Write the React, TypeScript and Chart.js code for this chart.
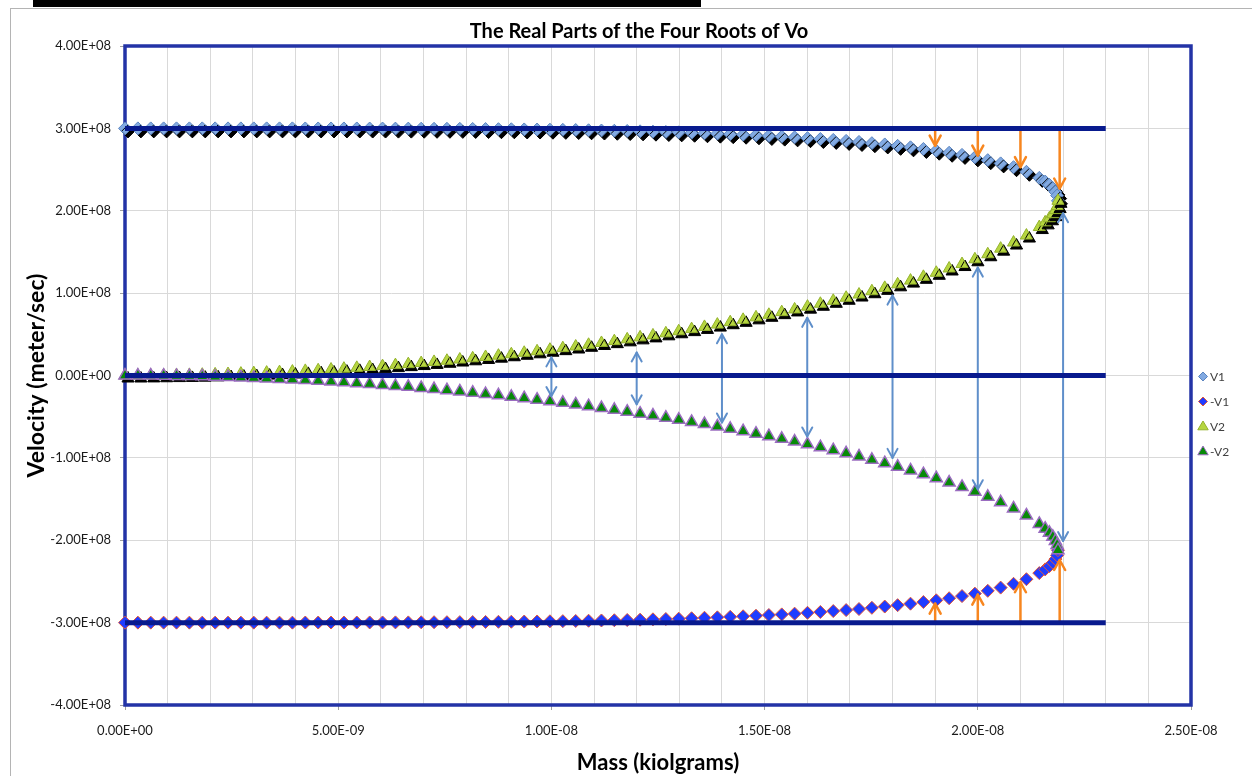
import React, { useEffect, useRef } from 'react';
import { Chart, registerables } from 'chart.js';

Chart.register(...registerables);

// Mass values in units of 1E-09 kg
const massX = [
  0, 0.302, 0.604, 0.906, 1.208, 1.51, 1.812, 2.114, 2.416, 2.718, 3.02, 3.322, 3.624,
  3.926, 4.228, 4.53, 4.832, 5.134, 5.436, 5.738, 6.04, 6.342, 6.644, 6.946, 7.248, 7.55,
  7.852, 8.154, 8.456, 8.758, 9.06, 9.362, 9.664, 9.966, 10.268, 10.57, 10.872, 11.174, 11.476,
  11.778, 12.08, 12.382, 12.684, 12.986, 13.288, 13.59, 13.892, 14.194, 14.496, 14.798, 15.1, 15.402,
  15.704, 16.006, 16.308, 16.61, 16.912, 17.214, 17.516, 17.818, 18.12, 18.422, 18.724, 19.026, 19.328,
  19.63, 19.932, 20.234, 20.536, 20.838, 21.14, 21.442,
  21.58, 21.68, 21.76, 21.82, 21.86, 21.88,
];

// Velocities in units of 1E+08 m/s
const v1 = [
  3.0, 3.0, 3.0, 3.0, 3.0, 3.0, 3.0, 3.0, 3.0, 3.0, 3.0, 3.0, 3.0,
  3.0, 2.999, 2.999, 2.999, 2.999, 2.999, 2.998, 2.998, 2.997, 2.997, 2.996, 2.995, 2.995,
  2.994, 2.993, 2.992, 2.99, 2.989, 2.987, 2.986, 2.984, 2.982, 2.98, 2.977, 2.974, 2.971,
  2.968, 2.964, 2.96, 2.956, 2.952, 2.947, 2.941, 2.936, 2.93, 2.923, 2.916, 2.908, 2.9,
  2.891, 2.881, 2.871, 2.86, 2.848, 2.835, 2.82, 2.805, 2.788, 2.77, 2.75, 2.729, 2.704,
  2.678, 2.648, 2.614, 2.575, 2.529, 2.473, 2.399,
  2.354, 2.314, 2.272, 2.229, 2.184, 2.121,
];

const negV1 = [
  -3.0, -3.0, -3.0, -3.0, -3.0, -3.0, -3.0, -3.0, -3.0, -3.0, -3.0, -3.0, -3.0,
  -3.0, -2.999, -2.999, -2.999, -2.999, -2.999, -2.998, -2.998, -2.997, -2.997, -2.996, -2.995, -2.995,
  -2.994, -2.993, -2.992, -2.99, -2.989, -2.987, -2.986, -2.984, -2.982, -2.98, -2.977, -2.974, -2.971,
  -2.968, -2.964, -2.96, -2.956, -2.952, -2.947, -2.941, -2.936, -2.93, -2.923, -2.916, -2.908, -2.9,
  -2.891, -2.881, -2.871, -2.86, -2.848, -2.835, -2.82, -2.805, -2.788, -2.77, -2.75, -2.729, -2.704,
  -2.678, -2.648, -2.614, -2.575, -2.529, -2.473, -2.399,
  -2.354, -2.314, -2.272, -2.229, -2.184, -2.121,
];

const v2 = [
  0.0, 0.0, 0.001, 0.003, 0.005, 0.007, 0.01, 0.014, 0.018, 0.023, 0.029, 0.035, 0.041,
  0.048, 0.056, 0.064, 0.073, 0.083, 0.093, 0.103, 0.114, 0.126, 0.138, 0.151, 0.165, 0.179,
  0.194, 0.209, 0.225, 0.241, 0.258, 0.276, 0.294, 0.313, 0.332, 0.352, 0.373, 0.395, 0.417,
  0.439, 0.463, 0.487, 0.512, 0.537, 0.563, 0.59, 0.618, 0.647, 0.676, 0.706, 0.737, 0.769,
  0.802, 0.836, 0.871, 0.907, 0.944, 0.983, 1.023, 1.064, 1.107, 1.152, 1.198, 1.247, 1.299,
  1.353, 1.411, 1.472, 1.54, 1.614, 1.699, 1.802,
  1.859, 1.909, 1.959, 2.008, 2.057, 2.121,
];

const negV2 = [
  -0.0, -0.0, -0.001, -0.003, -0.005, -0.007, -0.01, -0.014, -0.018, -0.023, -0.029, -0.035, -0.041,
  -0.048, -0.056, -0.064, -0.073, -0.083, -0.093, -0.103, -0.114, -0.126, -0.138, -0.151, -0.165, -0.179,
  -0.194, -0.209, -0.225, -0.241, -0.258, -0.276, -0.294, -0.313, -0.332, -0.352, -0.373, -0.395, -0.417,
  -0.439, -0.463, -0.487, -0.512, -0.537, -0.563, -0.59, -0.618, -0.647, -0.676, -0.706, -0.737, -0.769,
  -0.802, -0.836, -0.871, -0.907, -0.944, -0.983, -1.023, -1.064, -1.107, -1.152, -1.198, -1.247, -1.299,
  -1.353, -1.411, -1.472, -1.54, -1.614, -1.699, -1.802,
  -1.859, -1.909, -1.959, -2.008, -2.057, -2.121,
];

// Reference horizontal lines (speed of light, zero, minus speed of light)
const refLevels = [3, 0, -3];
const refSpan = [0, 23];

// Orange arrows (from +/- c line toward V1 / -V1)
const orangeX = [19, 20, 21, 21.92];
const orangeTopEnd = [2.79, 2.67, 2.53, 2.27];
const orangeBottomEnd = [-2.77, -2.66, -2.51, -2.24];

// Blue double-headed arrows between V2 and -V2
const blueX = [10, 12, 14, 16, 18, 20, 22];
const blueTop = [0.22, 0.28, 0.5, 0.7, 0.97, 1.31, 1.97];
const blueBottom = [-0.25, -0.35, -0.57, -0.74, -1.0, -1.38, -2.01];

const xMin = 0;
const xMax = 25;
const yMin = -4;
const yMax = 4;
const xUnit = 1e-9;
const yUnit = 1e8;

const titleText = 'The Real Parts of the Four Roots of Vo';
const xTitle = 'Mass (kiolgrams)';
const yTitle = 'Velocity (meter/sec)';

const FONT = 'Lato';

function fmtE(v: number): string {
  if (Math.abs(v) < 1e-30) return '0.00E+00';
  let exp = Math.floor(Math.log10(Math.abs(v)) + 1e-9);
  let mant = v / Math.pow(10, exp);
  if (Math.abs(mant) >= 9.995) {
    exp += 1;
    mant = v / Math.pow(10, exp);
  }
  const sign = exp < 0 ? '-' : '+';
  return mant.toFixed(2) + 'E' + sign + String(Math.abs(exp)).padStart(2, '0');
}

const pts = (ys: number[]) => massX.map((x, i) => ({ x, y: ys[i] }));

function drawHead(ctx: CanvasRenderingContext2D, x: number, y: number, dir: number, hw: number, hl: number) {
  ctx.beginPath();
  ctx.moveTo(x - hw, y - dir * hl);
  ctx.lineTo(x, y);
  ctx.lineTo(x + hw, y - dir * hl);
  ctx.stroke();
}

function drawArrow(
  ctx: CanvasRenderingContext2D,
  x: number,
  y0: number,
  y1: number,
  color: string,
  both: boolean,
  hw: number,
  hl: number,
  lw: number
) {
  ctx.save();
  ctx.strokeStyle = color;
  ctx.lineWidth = lw;
  ctx.lineCap = 'round';
  ctx.lineJoin = 'round';
  ctx.beginPath();
  ctx.moveTo(x, y0);
  ctx.lineTo(x, y1);
  ctx.stroke();
  drawHead(ctx, x, y1, Math.sign(y1 - y0), hw, hl);
  if (both) drawHead(ctx, x, y0, Math.sign(y0 - y1), hw, hl);
  ctx.restore();
}

function drawMarker(ctx: CanvasRenderingContext2D, style: string, x: number, y: number, r: number, fill: string, stroke: string) {
  ctx.beginPath();
  if (style === 'rectRot') {
    ctx.moveTo(x, y - r);
    ctx.lineTo(x + r, y);
    ctx.lineTo(x, y + r);
    ctx.lineTo(x - r, y);
  } else {
    ctx.moveTo(x, y - r);
    ctx.lineTo(x + r * 0.95, y + r * 0.6);
    ctx.lineTo(x - r * 0.95, y + r * 0.6);
  }
  ctx.closePath();
  ctx.fillStyle = fill;
  ctx.fill();
  ctx.lineWidth = 1;
  ctx.strokeStyle = stroke;
  ctx.stroke();
}

const decorPlugin = {
  id: 'decor',
  beforeDatasetsDraw(chart: any) {
    const { ctx, chartArea: a } = chart;
    ctx.save();
    ctx.strokeStyle = '#2333a6';
    ctx.lineWidth = 3.5;
    ctx.strokeRect(a.left, a.top, a.right - a.left, a.bottom - a.top);
    ctx.restore();
  },
  beforeDatasetDraw(chart: any, args: any) {
    const ds = chart.data.datasets[args.index];
    if (ds.shadow) {
      const ctx = chart.ctx;
      ctx.save();
      ctx.shadowColor = '#000000';
      ctx.shadowOffsetX = 3;
      ctx.shadowOffsetY = 3;
      ctx.shadowBlur = 0;
    }
  },
  afterDatasetDraw(chart: any, args: any) {
    const ds = chart.data.datasets[args.index];
    const ctx = chart.ctx;
    if (ds.shadow) ctx.restore();
    if (ds.label === '-V2') {
      const xs = chart.scales.x;
      const ys = chart.scales.y;
      orangeX.forEach((mx, i) => {
        const px = xs.getPixelForValue(mx);
        drawArrow(ctx, px, ys.getPixelForValue(refLevels[0]), ys.getPixelForValue(orangeTopEnd[i]), '#f7861f', false, 5.5, 10, 2.5);
        drawArrow(ctx, px, ys.getPixelForValue(refLevels[2]), ys.getPixelForValue(orangeBottomEnd[i]), '#f7861f', false, 5.5, 10, 2.5);
      });
      blueX.forEach((mx, i) => {
        const px = xs.getPixelForValue(mx);
        drawArrow(ctx, px, ys.getPixelForValue(blueTop[i]), ys.getPixelForValue(blueBottom[i]), '#5f8fca', true, 5, 9, 2);
      });
    }
  },
  afterDraw(chart: any) {
    const { ctx, chartArea: a } = chart;
    ctx.save();
    // Title
    ctx.fillStyle = '#000';
    ctx.font = `bold 20px ${FONT}`;
    ctx.textAlign = 'center';
    ctx.textBaseline = 'middle';
    ctx.fillText(titleText, 639, a.top - 14);
    // Legend
    const cy = (a.top + a.bottom) / 2 + 1;
    const lx = a.right + 12;
    ctx.font = `12px ${FONT}`;
    ctx.textAlign = 'left';
    chart.data.datasets.slice(0, 4).forEach((ds: any, i: number) => {
      const y = cy + i * 25;
      drawMarker(ctx, ds.pointStyle, lx, y, ds.pointStyle === 'rectRot' ? 4.5 : 5.5, ds.backgroundColor, ds.borderColor);
      ctx.fillStyle = '#404040';
      ctx.fillText(ds.label, lx + 7, y + 1);
    });
    ctx.restore();
  },
};

export default function App() {
  const canvasRef = useRef<HTMLCanvasElement | null>(null);

  useEffect(() => {
    const canvas = canvasRef.current;
    if (!canvas) return;

    const datasets: any[] = [
      {
        label: 'V1',
        data: pts(v1),
        pointStyle: 'rectRot',
        pointRadius: 6.5,
        backgroundColor: '#82aae2',
        borderColor: '#5a84c0',
        borderWidth: 1,
        showLine: false,
        order: 4,
        shadow: true,
        clip: false,
      },
      {
        label: '-V1',
        data: pts(negV1),
        pointStyle: 'rectRot',
        pointRadius: 6.5,
        backgroundColor: '#1f3cff',
        borderColor: '#e2563a',
        borderWidth: 1,
        showLine: false,
        order: 3,
        clip: false,
      },
      {
        label: 'V2',
        data: pts(v2),
        pointStyle: 'triangle',
        pointRadius: 7,
        backgroundColor: '#b6d640',
        borderColor: '#94b22c',
        borderWidth: 1,
        showLine: false,
        order: 2,
        shadow: true,
        clip: false,
      },
      {
        label: '-V2',
        data: pts(negV2),
        pointStyle: 'triangle',
        pointRadius: 7,
        backgroundColor: '#078a07',
        borderColor: '#9a6cc0',
        borderWidth: 1.5,
        showLine: false,
        order: 1,
        clip: false,
      },
      ...refLevels.map((lvl, k) => ({
        label: 'ref' + k,
        data: [
          { x: refSpan[0], y: lvl },
          { x: refSpan[1], y: lvl },
        ],
        showLine: true,
        borderColor: '#081a8e',
        borderWidth: 5,
        borderCapStyle: 'butt',
        pointRadius: 0,
        order: 0,
        clip: false,
      })),
    ];

    const chart = new Chart(canvas, {
      type: 'scatter',
      data: { datasets },
      options: {
        responsive: false,
        animation: false,
        events: [],
        layout: { padding: { left: 0, right: 61, top: 46, bottom: 0 } },
        plugins: {
          legend: { display: false },
          title: { display: false },
          tooltip: { enabled: false },
        },
        scales: {
          x: {
            type: 'linear',
            min: xMin,
            max: xMax,
            afterFit: (s: any) => {
              s.height = 71;
            },
            border: { display: false },
            grid: {
              color: '#d9d9d9',
              lineWidth: 1,
              drawTicks: true,
              tickLength: 5,
              tickColor: (c: any) =>
                c.tick && Math.round(c.tick.value) % 5 === 0 ? '#a0a0a0' : 'rgba(0,0,0,0)',
            },
            ticks: {
              stepSize: 1,
              autoSkip: false,
              maxRotation: 0,
              padding: 13,
              color: '#1a1a1a',
              font: { family: FONT, size: 13 },
              callback: (v: any) => (Math.round(Number(v)) % 5 === 0 ? fmtE(Math.round(Number(v)) * xUnit) : ''),
            },
            title: {
              display: true,
              text: xTitle,
              color: '#000',
              font: { family: FONT, size: 22, weight: 'bold' },
              padding: { top: 0, bottom: 0 },
            },
          },
          y: {
            type: 'linear',
            min: yMin,
            max: yMax,
            afterFit: (s: any) => {
              s.width = 125;
            },
            border: { display: false },
            grid: {
              color: '#d9d9d9',
              lineWidth: 1,
              drawTicks: true,
              tickLength: 5,
              tickColor: '#a0a0a0',
            },
            ticks: {
              stepSize: 1,
              autoSkip: false,
              padding: 9,
              color: '#1a1a1a',
              font: { family: FONT, size: 13 },
              callback: (v: any) => fmtE(Math.round(Number(v)) * yUnit),
            },
            title: {
              display: true,
              text: yTitle,
              color: '#000',
              font: { family: FONT, size: 23, weight: 'bold' },
              padding: { top: 23, bottom: 0 },
            },
          },
        },
      } as any,
      plugins: [decorPlugin as any],
    });

    return () => chart.destroy();
  }, []);

  return (
    <div style={{ position: 'fixed', left: 0, top: 0, width: 1252, height: 776, background: '#fff', overflow: 'hidden' }}>
      <canvas ref={canvasRef} width={1252} height={776} style={{ position: 'absolute', left: 0, top: 0, width: 1252, height: 776 }} />
      <div style={{ position: 'absolute', left: 33, top: 0, width: 668, height: 7, background: '#000' }} />
      <div style={{ position: 'absolute', left: 10, top: 8, width: 1242, height: 1, background: '#b4b4b4' }} />
      <div style={{ position: 'absolute', left: 10, top: 8, width: 1, height: 768, background: '#b4b4b4' }} />
    </div>
  );
}
